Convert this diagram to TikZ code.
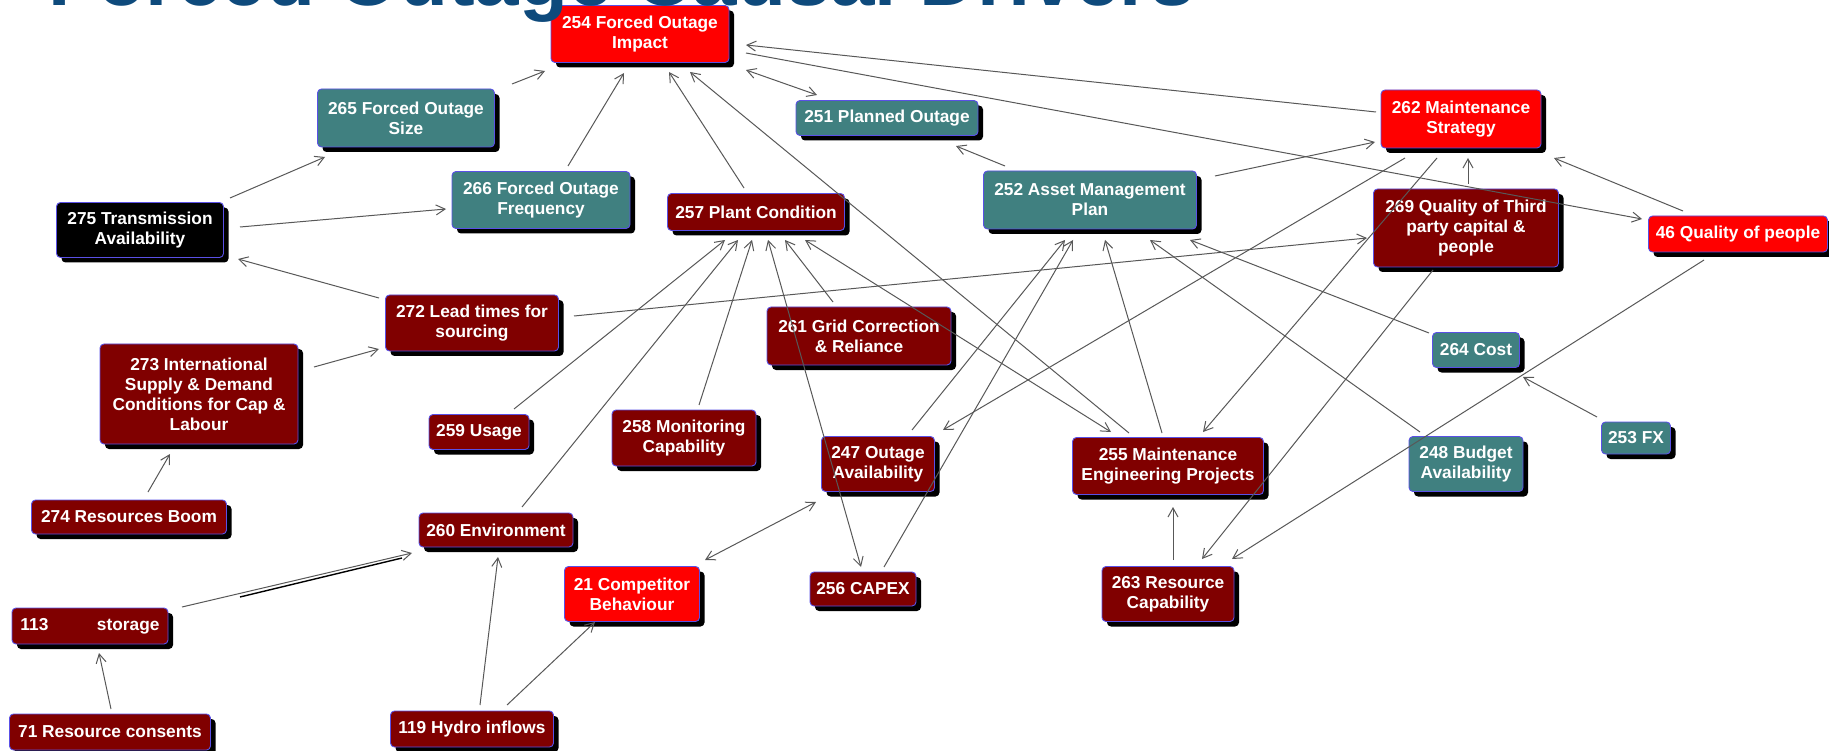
\documentclass[tikz,border=0pt]{standalone}
\usepackage{fontspec}
\setmainfont{Liberation Sans}
\usetikzlibrary{arrows.meta,shadows,calc}

\definecolor{boxred}{RGB}{255,0,0}
\definecolor{boxmaroon}{RGB}{128,0,0}
\definecolor{boxteal}{RGB}{64,128,128}
\definecolor{boxedge}{RGB}{90,80,230}
\definecolor{linkgray}{RGB}{88,88,88}
\definecolor{titleblue}{RGB}{14,74,124}

\newcommand{\boxfont}{\fontsize{17.3pt}{20pt}\selectfont\bfseries}

\tikzset{
  box/.style={rounded corners=4pt, draw=boxedge, line width=0.9pt,
    text=white, font=\boxfont, align=center, inner sep=0pt,
    drop shadow={shadow xshift=5pt, shadow yshift=-5pt, opacity=1, fill=black}},
  redbox/.style={box, fill=boxred},
  maroonbox/.style={box, fill=boxmaroon},
  tealbox/.style={box, fill=boxteal},
  blackbox/.style={box, fill=black},
  link/.style={draw=linkgray, line width=1pt,
    -{Straight Barb[length=9pt,width=10pt]}},
  twoway/.style={draw=linkgray, line width=1pt,
    {Straight Barb[length=9pt,width=10pt]}-{Straight Barb[length=9pt,width=10pt]}}
}

\begin{document}
\begin{tikzpicture}[x=1pt,y=-1pt]
\useasboundingbox (0,0) rectangle (1829,751);
\clip (0,0) rectangle (1829,751);
\fill[white] (0,0) rectangle (1829,751);

% ---- factor boxes ----
\node[redbox, minimum width=178pt, minimum height=57pt] (n254) at (640,34) {254 Forced Outage\\Impact};
\node[tealbox, minimum width=177pt, minimum height=58pt] (n265) at (406,118) {265 Forced Outage\\Size};
\node[tealbox, minimum width=178pt, minimum height=57pt] (n266) at (541,200) {266 Forced Outage\\Frequency};
\node[blackbox, minimum width=167pt, minimum height=55pt] (n275) at (140,230) {275 Transmission\\Availability};
\node[maroonbox, minimum width=177pt, minimum height=37pt] (n257) at (756,212) {257 Plant Condition};
\node[tealbox, minimum width=182pt, minimum height=35pt] (n251) at (887,118) {251 Planned Outage};
\node[tealbox, minimum width=213pt, minimum height=58pt] (n252) at (1090,200) {252 Asset Management\\Plan};
\node[redbox, minimum width=160pt, minimum height=58pt] (n262) at (1461,119) {262 Maintenance\\Strategy};
\node[maroonbox, minimum width=185pt, minimum height=78pt] (n269) at (1466,228) {269 Quality of Third\\party capital \&\\people};
\node[redbox, minimum width=179pt, minimum height=36pt] (n46) at (1738,234) {46 Quality of people};
\node[maroonbox, minimum width=173pt, minimum height=56pt] (n272) at (472,323) {272 Lead times for\\sourcing};
\node[maroonbox, minimum width=198pt, minimum height=100pt] (n273) at (199,394) {273 International\\Supply \& Demand\\Conditions for Cap \&\\Labour};
\node[maroonbox, minimum width=100pt, minimum height=35pt] (n259) at (479,432) {259 Usage};
\node[maroonbox, minimum width=144pt, minimum height=56pt] (n258) at (684,438) {258 Monitoring\\Capability};
\node[maroonbox, minimum width=184pt, minimum height=58pt] (n261) at (859,336) {261 Grid Correction\\\& Reliance};
\node[maroonbox, minimum width=113pt, minimum height=55pt] (n247) at (878,464) {247 Outage\\Availability};
\node[maroonbox, minimum width=191pt, minimum height=57pt] (n255) at (1168,466) {255 Maintenance\\Engineering Projects};
\node[tealbox, minimum width=87pt, minimum height=35pt] (n264) at (1476,350) {264 Cost};
\node[tealbox, minimum width=69pt, minimum height=32pt] (n253) at (1636,438) {253 FX};
\node[tealbox, minimum width=114pt, minimum height=55pt] (n248) at (1466,464) {248 Budget\\Availability};
\node[maroonbox, minimum width=195pt, minimum height=34pt] (n274) at (129,517) {274 Resources Boom};
\node[maroonbox, minimum width=154pt, minimum height=34pt] (n260) at (496,530) {260 Environment};
\node[maroonbox, minimum width=156pt, minimum height=36pt] (n113) at (90,626) {113\hspace{48.6pt}storage};
\node[redbox, minimum width=135pt, minimum height=55pt] (n21) at (632,594) {21 Competitor\\Behaviour};
\node[maroonbox, minimum width=106pt, minimum height=34pt] (n256) at (863,589) {256 CAPEX};
\node[maroonbox, minimum width=132pt, minimum height=55pt] (n263) at (1168,594) {263 Resource\\Capability};
\node[maroonbox, minimum width=201pt, minimum height=36pt] (n71) at (110,732) {71 Resource consents};
\node[maroonbox, minimum width=163pt, minimum height=36pt] (n119) at (472,729) {119 Hydro inflows};

% ---- influence links ----
\draw[link] ($(n265)+(106,-34)$) -- ($(n254)+(-95,37)$);
\draw[link] ($(n266)+(27,-34)$) -- ($(n254)+(-16,39)$);
\draw[link] ($(n257)+(-12,-24)$) -- ($(n254)+(29,38)$);
\draw[link] ($(n255)+(-39,-33)$) -- ($(n254)+(50,38)$);
\draw[twoway] ($(n254)+(106,36)$) -- ($(n251)+(-70,-23)$);
\draw[link] ($(n262)+(-85,-7)$) -- ($(n254)+(106,11)$);
\draw[link] ($(n254)+(106,19)$) -- ($(n46)+(-96,-15)$);
\draw[link] ($(n252)+(-85,-34)$) -- ($(n251)+(69,28)$);
\draw[link] ($(n252)+(125,-24)$) -- ($(n262)+(-86,23)$);
\draw[link] ($(n269)+(2,-44)$) -- ($(n262)+(7,39)$);
\draw[link] ($(n46)+(-55,-23)$) -- ($(n262)+(93,39)$);
\draw[link] ($(n262)+(-56,39)$) -- ($(n247)+(65,-34)$);
\draw[link] ($(n262)+(-24,39)$) -- ($(n255)+(35,-34)$);
\draw[link] ($(n272)+(-93,-25)$) -- ($(n275)+(98,29)$);
\draw[link] ($(n275)+(90,-32)$) -- ($(n265)+(-81,39)$);
\draw[link] ($(n275)+(100,-3)$) -- ($(n266)+(-95,9)$);
\draw[link] ($(n273)+(115,-27)$) -- ($(n272)+(-93,26)$);
\draw[link] ($(n274)+(19,-25)$) -- ($(n273)+(-29,60)$);
\draw[link] ($(n272)+(102,-7)$) -- ($(n269)+(-99,10)$);
\draw[link] ($(n259)+(35,-23)$) -- ($(n257)+(-31,28)$);
\draw[link] ($(n260)+(26,-23)$) -- ($(n257)+(-18,28)$);
\draw[link] ($(n258)+(15,-33)$) -- ($(n257)+(-4,28)$);
\draw[twoway] ($(n256)+(-2,-22)$) -- ($(n257)+(12,28)$);
\draw[link] ($(n261)+(-26,-34)$) -- ($(n257)+(29,28)$);
\draw[twoway] ($(n255)+(-57,-34)$) -- ($(n257)+(49,28)$);
\draw[link] ($(n247)+(34,-34)$) -- ($(n252)+(-25,40)$);
\draw[link] ($(n256)+(21,-22)$) -- ($(n252)+(-17,40)$);
\draw[link] ($(n255)+(-6,-33)$) -- ($(n252)+(15,40)$);
\draw[link] ($(n248)+(-46,-32)$) -- ($(n252)+(60,40)$);
\draw[link] ($(n264)+(-47,-17)$) -- ($(n252)+(100,40)$);
\draw[link] ($(n253)+(-39,-21)$) -- ($(n264)+(47,27)$);
\draw[link] ($(n269)+(-33,42)$) -- ($(n263)+(34,-35)$);
\draw[link] ($(n46)+(-34,26)$) -- ($(n263)+(64,-35)$);
\draw[link] ($(n263)+(5,-34)$) -- ($(n255)+(5,41)$);
\draw[twoway] ($(n21)+(73,-34)$) -- ($(n247)+(-62,38)$);
\draw[link] ($(n113)+(92,-19)$) -- ($(n260)+(-84,23)$);
\draw[black, line width=1.4pt] (240,597) -- (402,558);
\draw[link] ($(n71)+(1,-23)$) -- ($(n113)+(9,27)$);
\draw[link] ($(n119)+(8,-24)$) -- ($(n260)+(2,27)$);
\draw[link] ($(n119)+(35,-24)$) -- ($(n21)+(-37,28)$);

% ---- heading, cut by the top edge ----
\node[anchor=base west, inner sep=0pt, text=titleblue,
  font=\fontsize{80pt}{90pt}\selectfont\bfseries] (title) at (48,5.5)
  {Forced Outage Causal Drivers};
\end{tikzpicture}
\end{document}
